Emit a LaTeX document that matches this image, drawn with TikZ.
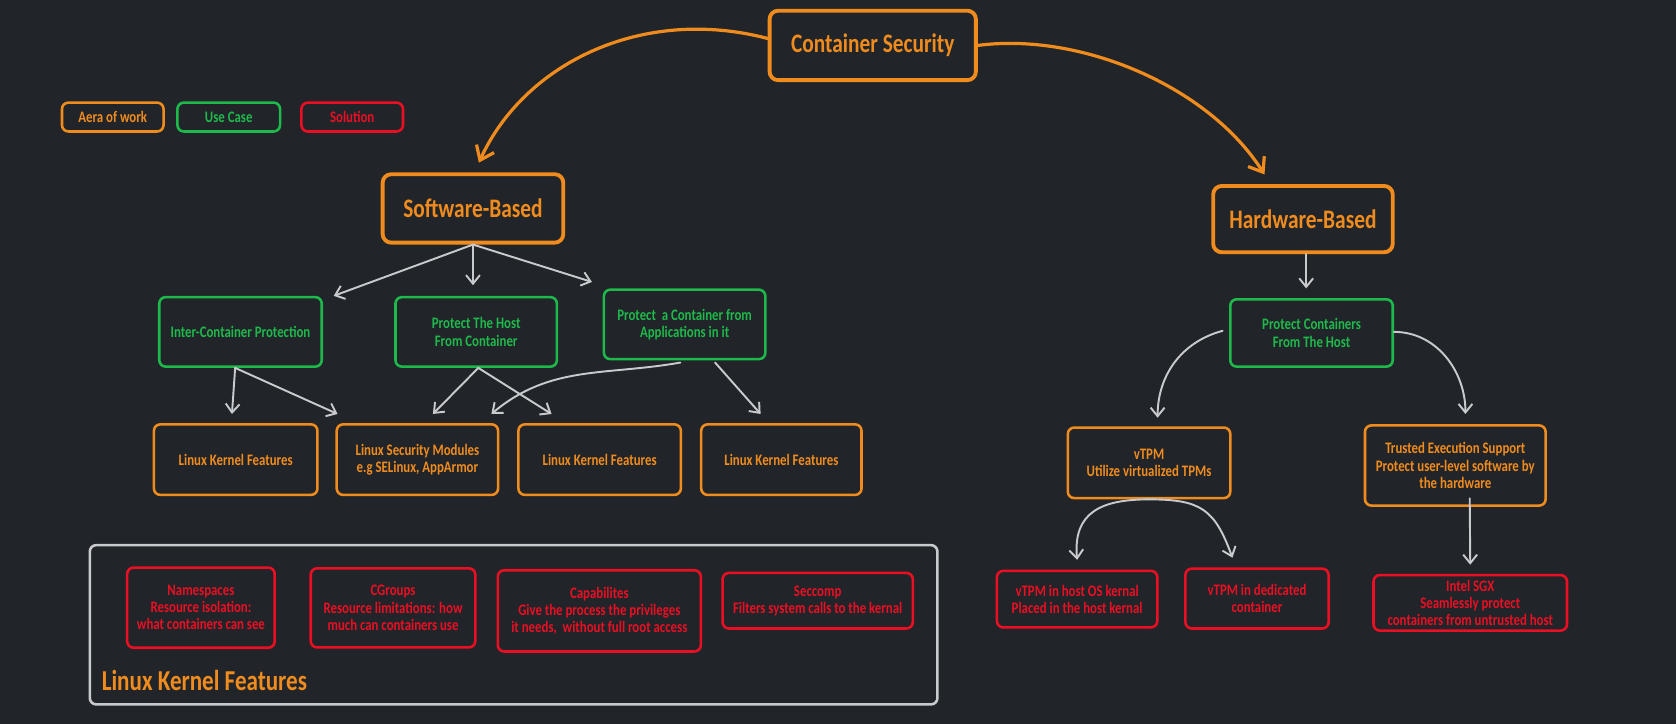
\documentclass[tikz,border=0pt]{standalone}
\usepackage{fontspec}
\setmainfont{Carlito}[FakeStretch=0.8]
\usetikzlibrary{arrows.meta}
\definecolor{bg}{RGB}{33,36,41}
\definecolor{cor}{RGB}{240,140,30}
\definecolor{cgr}{RGB}{30,185,75}
\definecolor{cre}{RGB}{235,15,35}
\definecolor{cgy}{RGB}{200,202,206}
\begin{document}
\begin{tikzpicture}[x=1pt,y=1pt,
  box/.style={draw, rounded corners=6pt, align=center, inner sep=0pt, line width=2.4pt, font=\bfseries\fontsize{15}{16}\selectfont},
  obox/.style={box, draw=cor, text=cor},
  gbox/.style={box, draw=cgr, text=cgr},
  rbox/.style={box, draw=cre, text=cre},
  bigbox/.style={draw=cor, text=cor, line width=3.6pt, rounded corners=8pt, align=center, inner sep=0pt, font=\bfseries\fontsize{25}{28}\selectfont},
  arr/.style={draw=cgy, line width=1.8pt, line cap=round, -{Straight Barb[length=8pt,width=13pt]}},
  oarr/.style={draw=cor, line width=3pt, line cap=round, -{Straight Barb[length=12pt,width=18pt]}}]
\fill[bg] (0,0) rectangle (1568,-677);
\useasboundingbox (0,0) rectangle (1568,-677);

% top
\node[bigbox, minimum width=193pt, minimum height=65pt] (cs) at (816.5,-42.5) {Container Security};
\node[obox, minimum width=95pt, minimum height=27pt] (leg1) at (105.5,-109.5) {Aera of work};
\node[gbox, minimum width=96pt, minimum height=27pt] (leg2) at (214,-109.5) {Use Case};
\node[rbox, minimum width=95pt, minimum height=27pt] (leg3) at (329.5,-109.5) {Solution};

\node[bigbox, minimum width=169pt, minimum height=64pt] (sw) at (442.5,-195) {Software-Based};
\node[bigbox, minimum width=168pt, minimum height=62pt] (hw) at (1219,-205) {Hardware-Based};

% use cases
\node[gbox, minimum width=152pt, minimum height=65pt] (g1) at (225,-310.5) {Inter-Container Protection};
\node[gbox, minimum width=151pt, minimum height=65pt] (g2) at (445.5,-310.5) {Protect The Host\\From Container};
\node[gbox, minimum width=151pt, minimum height=65pt] (g3) at (640.5,-303.5) {Protect\ \ a Container from\\Applications in it};
\node[gbox, minimum width=152pt, minimum height=63pt] (gh) at (1227,-311.5) {Protect Containers\\From The Host};

% areas
\node[obox, minimum width=153pt, minimum height=66pt] (o1) at (220.5,-430) {Linux Kernel Features};
\node[obox, minimum width=151pt, minimum height=66pt] (o2) at (390.5,-430) {Linux Security Modules\\e.g SELinux, AppArmor};
\node[obox, minimum width=152pt, minimum height=66pt] (o3) at (561,-430) {Linux Kernel Features};
\node[obox, minimum width=150pt, minimum height=66pt] (o4) at (731,-430) {Linux Kernel Features};
\node[obox, minimum width=152pt, minimum height=66pt] (vt) at (1075,-433) {vTPM\\Utilize virtualized TPMs};
\node[obox, minimum width=169pt, minimum height=75pt] (te) at (1361.5,-435.5) {Trusted Execution Support\\Protect user-level software by\\the hardware};

% frame
\node[draw=cgy, line width=2.4pt, rounded corners=6pt, minimum width=793pt, minimum height=149pt, inner sep=0pt] (fr) at (480.5,-584.5) {};
\node[anchor=west, text=cor, font=\bfseries\fontsize{27}{30}\selectfont, inner sep=0pt] (frl) at (95,-637) {Linux Kernel Features};

% solutions
\node[rbox, minimum width=138pt, minimum height=75pt] (r1) at (188,-568.5) {Namespaces\\Resource isolation:\\what containers can see};
\node[rbox, minimum width=154pt, minimum height=74pt] (r2) at (367.7,-568.7) {CGroups\\Resource limitations: how\\much can containers use};
\node[rbox, minimum width=190pt, minimum height=76pt] (r3) at (560.7,-571.5) {Capabilites\\Give the process the privileges\\it needs,\ \ without full root access};
\node[rbox, minimum width=178pt, minimum height=52pt] (r4) at (765,-562) {Seccomp\\Filters system calls to the kernal};
\node[rbox, minimum width=150pt, minimum height=53pt] (r5) at (1007.7,-560.5) {vTPM in host OS kernal\\Placed in the host kernal};
\node[rbox, minimum width=134pt, minimum height=56pt] (r6) at (1176,-560) {vTPM in dedicated\\container};
\node[rbox, minimum width=181pt, minimum height=52pt] (r7) at (1375.5,-564) {Intel SGX\\Seamlessly protect\\containers from untrusted host};

% orange connectors
\draw[oarr] ([yshift=6.5pt]cs.west) .. controls (600,-5) and (490,-60) .. ([xshift=5.5pt,yshift=9pt]sw.north);
\draw[oarr] (cs.east) .. controls (1010,-30) and (1130,-80) .. ([xshift=-36pt,yshift=9pt]hw.north);

% software side
\draw[arr] (sw.south) -- ([xshift=10pt]g1.north east);
\draw[arr] (sw.south) -- ([xshift=-3pt,yshift=10pt]g2.north);
\draw[arr] (sw.south) -- ([xshift=-10pt,yshift=6pt]g3.north west);
\draw[arr] ([xshift=-5pt]g1.south) -- ([xshift=-3.5pt,yshift=8.5pt]o1.north);
\draw[arr] ([xshift=-5pt]g1.south) -- ([xshift=2pt,yshift=8.5pt]o2.north west);
\draw[arr] ([xshift=2pt]g2.south) -- ([xshift=14.5pt,yshift=8.5pt]o2.north);
\draw[arr] ([xshift=2pt]g2.south) -- ([xshift=-45pt,yshift=8.5pt]o3.north);
\draw[arr] ([xshift=-4pt,yshift=-2pt]g3.south) to[out=190,in=40] ([xshift=-7.5pt,yshift=8.5pt]o2.north east);
\draw[arr] ([xshift=28.5pt,yshift=-2pt]g3.south) -- ([xshift=-19.4pt,yshift=8.5pt]o4.north);

% hardware side
\draw[arr] ([xshift=3pt]hw.south) -- ([xshift=-5pt,yshift=9pt]gh.north);
\draw[arr] ([xshift=-6pt,yshift=2pt]gh.west) to[out=195,in=90] ([xshift=8pt,yshift=8pt]vt.north);
\draw[arr] ([yshift=1pt]gh.east) to[out=0,in=90] ([xshift=9.5pt,yshift=9.5pt]te.north);
\draw[arr] (vt.south) to[out=180,in=95,looseness=1.3] ([yshift=9pt]r5.north);
\draw[arr] (vt.south) to[out=0,in=110,looseness=1.3] ([xshift=-23pt,yshift=9pt]r6.north);
\draw[arr] ([xshift=13.5pt,yshift=8pt]te.south) -- ([yshift=8.5pt]r7.north);
\end{tikzpicture}
\end{document}
